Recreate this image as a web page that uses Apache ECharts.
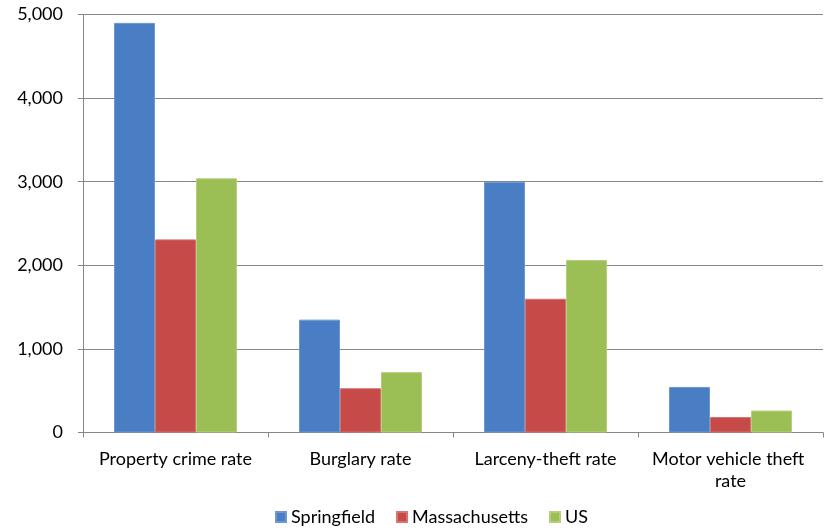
<!DOCTYPE html>
<html>
<head>
<meta charset="utf-8">
<script src="https://cdn.jsdelivr.net/npm/echarts@6/dist/echarts.min.js"></script>
<style>
html,body{margin:0;padding:0;background:#fff;}
#chart{width:825px;height:528px;}
</style>
</head>
<body>
<div id="chart"></div>
<script>
const categories = ['Property crime rate', 'Burglary rate', 'Larceny-theft rate', 'Motor vehicle theft rate'];
const seriesNames = ['Springfield', 'Massachusetts', 'US'];
const springfield = [4900, 1350, 3000, 545];
const massachusetts = [2310, 530, 1600, 185];
const us = [3040, 722, 2063, 262];
const yTicks = [0, 1000, 2000, 3000, 4000, 5000];

const colors = ['#4a7ec4', '#c64a48', '#9bbf55'];
const borders = ['#6f98cf', '#d47473', '#b3cf7c'];

const chart = echarts.init(document.getElementById('chart'), null, {renderer: 'canvas'});
const valuesList = [springfield, massachusetts, us];
chart.setOption({
  animation: false,
  textStyle: {fontFamily: 'Lato, sans-serif'},
  grid: {left: 83, right: 2, top: 14.5, bottom: 95.5},
  legend: {
    data: seriesNames,
    top: 501,
    left: 270,
    padding: 5,
    itemWidth: 10,
    itemHeight: 10,
    itemGap: 21,
    icon: 'rect',
    textStyle: {fontSize: 18, color: '#000', fontFamily: 'Lato, sans-serif', lineHeight: 22}
  },
  xAxis: {
    type: 'category',
    data: categories,
    axisLine: {lineStyle: {color: '#868686', width: 1}},
    axisTick: {show: true, length: 5, lineStyle: {color: '#868686'}},
    axisLabel: {
      interval: 0, fontSize: 18, color: '#000', margin: 16,
      width: 170, overflow: 'break', lineHeight: 22,
      fontFamily: 'Lato, sans-serif'
    }
  },
  yAxis: {
    type: 'value',
    min: yTicks[0],
    max: yTicks[yTicks.length - 1],
    interval: 1000,
    axisLine: {show: true, lineStyle: {color: '#868686'}},
    axisTick: {show: true, length: 5, lineStyle: {color: '#868686'}},
    splitLine: {lineStyle: {color: '#868686', width: 1}},
    axisLabel: {
      fontSize: 18, color: '#000', margin: 20,
      fontFamily: 'Lato, sans-serif',
      formatter: v => v.toLocaleString('en-US')
    }
  },
  series: seriesNames.map((name, i) => ({
    name: name,
    type: 'bar',
    data: valuesList[i],
    barGap: '0%',
    barCategoryGap: '33.5%',
    itemStyle: {color: colors[i], borderColor: borders[i], borderWidth: 1}
  }))
});
</script>
</body>
</html>
